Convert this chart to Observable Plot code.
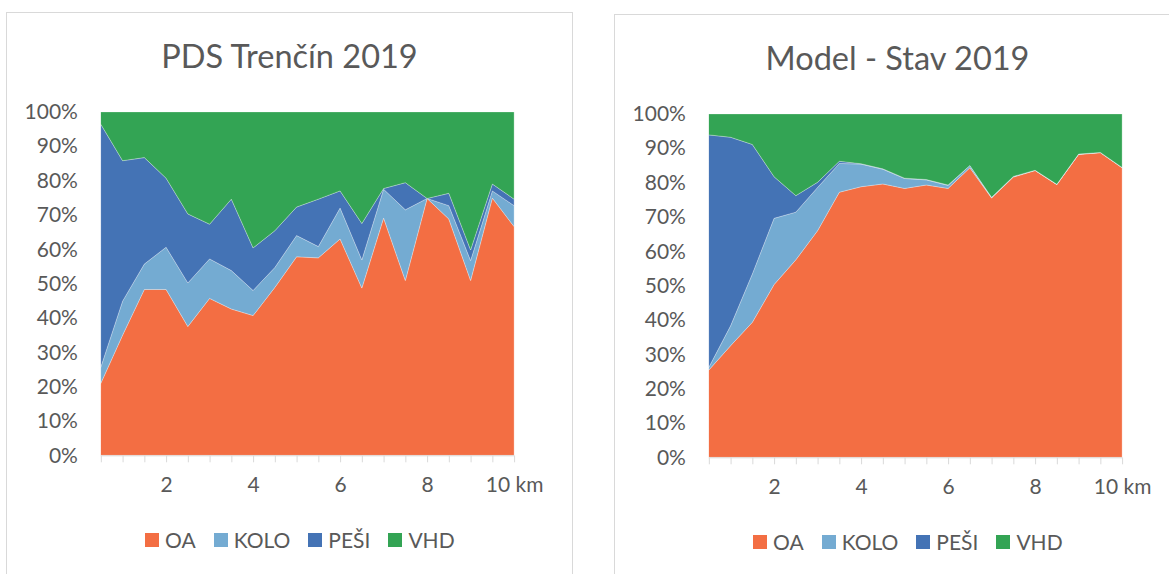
<!DOCTYPE html>
<html>
<head>
<meta charset="utf-8">
<script src="https://cdn.jsdelivr.net/npm/d3@7"></script>
<script src="https://cdn.jsdelivr.net/npm/@observablehq/plot@0.6"></script>
<style>
  html, body { margin: 0; padding: 0; background: #fff; }
  body { width: 1169px; height: 574px; overflow: hidden; position: relative; font-family: Lato, "Open Sans", sans-serif; color: #595959; }
  .box { position: absolute; width: 567px; height: 620px; border: 1px solid #d9d9d9; box-sizing: border-box; }
  .title { position: absolute; left: 0; width: 100%; top: 27px; text-align: center; font-size: 32.5px; line-height: 32px; color: #595959; white-space: nowrap; }
  .chart { position: absolute; left: -1px; top: 59px; }
  .legend { position: absolute; left: 138px; top: 517px; display: flex; align-items: center; font-size: 21px; line-height: 20px; color: #595959; white-space: nowrap; }
  .item { display: flex; align-items: center; margin-right: 18px; }
  .sw { width: 14px; height: 14px; margin-right: 6px; }
</style>
</head>
<body>
<div id="root"></div>
<script>
// distance categories (km)
const km = [0.5, 1, 1.5, 2, 2.5, 3, 3.5, 4, 4.5, 5, 5.5, 6, 6.5, 7, 7.5, 8, 8.5, 9, 9.5, 10];
const modes = ["OA", "KOLO", "PEŠI", "VHD"];
const colors = ["#f36e43", "#74abd2", "#4473b5", "#33a454"];
const xTickLabels = [2, 4, 6, 8, 10];
const yTicks = [0, 10, 20, 30, 40, 50, 60, 70, 80, 90, 100];

// PDS Trenčín 2019 (shares in %)
const pdsOA   = [21, 35, 48.3, 48.3, 37.5, 45.7, 42.6, 40.7, 48.9, 57.8, 57.5, 63, 48.7, 69.1, 50.9, 74.8, 68.8, 50.9, 74.9, 66.6];
const pdsKOLO = [4.7, 9.9, 7.4, 12.3, 12.7, 11.5, 11.2, 7.3, 5.8, 6.2, 3.3, 9, 8.2, 8.4, 20.6, 0, 3.9, 5.8, 2.1, 6.1];
const pdsPESI = [70.7, 40.9, 31, 20.1, 20.1, 10.1, 20.8, 12.4, 10.7, 8.3, 13.8, 5, 10.6, 0.2, 7.9, 0, 3.6, 3.1, 2, 1.9];
const pdsVHD  = [3.6, 14.2, 13.3, 19.3, 29.7, 32.7, 25.4, 39.6, 34.6, 27.7, 25.4, 23, 32.5, 22.3, 20.6, 25.2, 23.7, 40.2, 21, 25.4];

// Model - Stav 2019 (shares in %)
const modOA   = [25.4, 32.5, 39.3, 50.3, 57.5, 66, 77.2, 78.8, 79.6, 78.3, 79.3, 78.3, 84.3, 75.5, 81.6, 83.5, 79.4, 88.2, 88.7, 84.3];
const modKOLO = [0.8, 5.8, 14.1, 19.3, 13.9, 12.6, 8.4, 6.6, 4.3, 2.9, 1.5, 0.9, 0.7, 0.2, 0.2, 0.1, 0.1, 0.1, 0.1, 0.1];
const modPESI = [67.7, 54.9, 37.7, 12.1, 4.8, 1.5, 0.6, 0.1, 0.1, 0.1, 0.1, 0.1, 0, 0, 0, 0, 0, 0, 0, 0];
const modVHD  = [6.1, 6.8, 8.9, 18.3, 23.8, 19.9, 13.8, 14.5, 16, 18.7, 19.1, 20.7, 15, 24.3, 18.2, 16.4, 20.5, 11.7, 11.2, 15.6];

function rows(series) {
  return km.flatMap((k, i) => modes.map((m, j) => ({km: k, mode: m, share: series[j][i]})));
}

function makeChart(title, series, left, top) {
  const box = document.createElement("div");
  box.className = "box";
  box.style.left = left + "px";
  box.style.top = top + "px";
  const t = document.createElement("div");
  t.className = "title";
  t.textContent = title;
  box.appendChild(t);

  const plot = Plot.plot({
    width: 567,
    height: 440,
    marginLeft: 95,
    marginRight: 58,
    marginTop: 40,
    marginBottom: 56,
    x: {domain: [0.5, 10], label: null},
    y: {domain: [0, 100], label: null},
    color: {domain: modes, range: colors},
    style: {fontFamily: "Lato, 'Open Sans', sans-serif", fontSize: "21px", color: "#595959", background: "transparent"},
    marks: [
      Plot.areaY(rows(series), {x: "km", y: "share", fill: "mode", order: modes, curve: "linear", stroke: "#ffffff", strokeOpacity: 0.35, strokeWidth: 0.8}),
      Plot.ruleY([0], {stroke: "#d9d9d9"}),
      Plot.axisX({ticks: km, tickSize: 7, stroke: "#d9d9d9", strokeOpacity: 1, tickFormat: () => "", label: null}),
      Plot.axisX({ticks: xTickLabels, tickSize: 0, tickPadding: 21, fontSize: 21, fill: "#595959", tickFormat: d => d === 10 ? "10 km" : String(d), label: null}),
      Plot.axisY({ticks: yTicks, tickSize: 0, tickPadding: 23.5, fontSize: 21, fill: "#595959", tickFormat: d => d + "%", label: null})
    ]
  });
  const wrap = document.createElement("div");
  wrap.className = "chart";
  wrap.appendChild(plot);
  box.appendChild(wrap);

  const lg = document.createElement("div");
  lg.className = "legend";
  modes.forEach((m, i) => {
    const it = document.createElement("div");
    it.className = "item";
    const sw = document.createElement("div");
    sw.className = "sw";
    sw.style.background = colors[i];
    const tx = document.createElement("span");
    tx.textContent = m;
    it.appendChild(sw);
    it.appendChild(tx);
    lg.appendChild(it);
  });
  box.appendChild(lg);
  document.getElementById("root").appendChild(box);
}

makeChart("PDS Trenčín 2019", [pdsOA, pdsKOLO, pdsPESI, pdsVHD], 6, 12);
makeChart("Model - Stav 2019", [modOA, modKOLO, modPESI, modVHD], 614, 14);
</script>
</body>
</html>
